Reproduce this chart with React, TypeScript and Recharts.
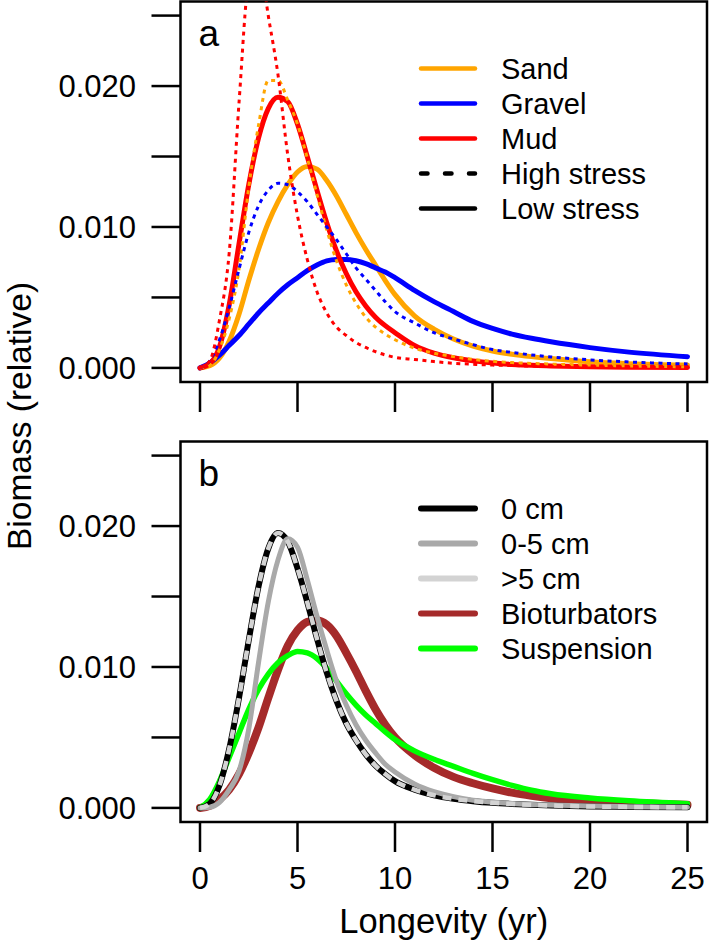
import { Legend, Line, LineChart, ReferenceArea, XAxis, YAxis } from 'recharts';

const FONT = '"Liberation Sans", Arial, Helvetica, sans-serif';

const longevity = [
  0, 0.5, 1, 1.5, 2, 2.5, 3, 3.5, 4, 4.5, 5, 5.5, 6, 6.5, 7, 7.5, 8, 8.5, 9, 9.5,
  10, 11, 12, 13, 14, 15, 16, 17, 18, 20, 22, 25,
];

// panel a, biomass in units of 0.001
const sandLow = [0, 0.15, 0.7, 1.9, 3.8, 6.2, 8.4, 10.3, 11.8, 13.0, 13.9, 14.3, 14.1, 13.3, 12.2, 10.9, 9.6, 8.4, 7.3, 6.2, 5.2, 3.7, 2.75, 2.05, 1.55, 1.2, 0.97, 0.8, 0.66, 0.43, 0.3, 0.2];
const gravelLow = [0, 0.35, 0.9, 1.6, 2.3, 3.1, 3.9, 4.6, 5.3, 5.9, 6.4, 6.9, 7.3, 7.6, 7.7, 7.7, 7.6, 7.4, 7.1, 6.8, 6.4, 5.5, 4.7, 4.0, 3.3, 2.8, 2.4, 2.1, 1.85, 1.44, 1.12, 0.8];
const mudLow = [0, 0.3, 1.5, 4.5, 8.8, 13.0, 16.3, 18.4, 19.2, 18.9, 17.3, 15.0, 12.6, 10.3, 8.3, 6.7, 5.4, 4.4, 3.6, 3.0, 2.5, 1.6, 1.05, 0.72, 0.5, 0.35, 0.25, 0.18, 0.14, 0.08, 0.05, 0.03];
const sandHigh = [0, 0.2, 1.3, 3.5, 7.0, 12.8, 17.2, 20.4, 20.4, 19.0, 17.3, 14.9, 12.3, 9.8, 7.6, 5.9, 4.6, 3.6, 2.9, 2.4, 2.0, 1.4, 1.05, 0.8, 0.6, 0.47, 0.38, 0.32, 0.27, 0.2, 0.14, 0.08];
const gravelHigh = [0, 0.5, 2.0, 4.3, 7.0, 9.6, 11.5, 12.6, 13.1, 13.0, 12.5, 11.8, 10.9, 10.0, 9.1, 8.1, 7.1, 6.3, 5.5, 4.7, 4.0, 3.2, 2.5, 2.05, 1.65, 1.3, 1.1, 0.92, 0.78, 0.57, 0.42, 0.28];
const mudHigh = [0, 0.5, 3.4, 8.2, 18.8, 27.6, 29.3, 25.0, 20.8, 15.1, 10.8, 7.7, 5.4, 3.9, 2.9, 2.3, 1.8, 1.45, 1.15, 0.92, 0.75, 0.6, 0.45, 0.33, 0.26, 0.2, 0.17, 0.13, 0.11, 0.08, 0.06, 0.04];

// panel b
const depth0 = [0, 0.3, 1.6, 4.2, 7.8, 11.9, 15.7, 18.4, 19.5, 18.9, 17.0, 14.6, 12.0, 9.6, 7.6, 6.0, 4.8, 3.8, 3.0, 2.4, 1.9, 1.3, 0.9, 0.65, 0.48, 0.36, 0.28, 0.22, 0.17, 0.1, 0.07, 0.04];
const depth05 = [0, 0.05, 0.4, 1.3, 2.6, 5.6, 10.3, 14.6, 17.6, 19.1, 18.5, 16.2, 13.6, 11.2, 9.0, 7.3, 5.9, 4.8, 3.9, 3.1, 2.55, 1.7, 1.15, 0.8, 0.55, 0.42, 0.32, 0.25, 0.2, 0.13, 0.09, 0.05];
const depth5 = [0, 0.3, 1.6, 4.2, 7.8, 11.9, 15.7, 18.4, 19.5, 18.9, 17.0, 14.6, 12.0, 9.6, 7.6, 6.0, 4.8, 3.8, 3.0, 2.4, 1.9, 1.3, 0.9, 0.65, 0.48, 0.36, 0.28, 0.22, 0.17, 0.1, 0.07, 0.04];
const bioturbators = [0, 0.15, 0.6, 1.3, 2.4, 3.9, 5.7, 7.8, 9.8, 11.5, 12.6, 13.2, 13.3, 13.0, 12.2, 11.0, 9.7, 8.3, 7.0, 5.9, 5.0, 3.75, 2.85, 2.2, 1.75, 1.38, 1.08, 0.86, 0.69, 0.48, 0.35, 0.22];
const suspension = [0, 0.6, 1.9, 3.6, 5.3, 7.0, 8.4, 9.5, 10.3, 10.8, 11.1, 11.0, 10.6, 9.9, 9.0, 8.1, 7.3, 6.6, 6.0, 5.4, 4.85, 4.05, 3.45, 2.95, 2.45, 2.0, 1.6, 1.25, 1.0, 0.7, 0.5, 0.3];

const xTicks = [0, 5, 10, 15, 20, 25];
const yTicks = [0, 5, 10, 15, 20, 25];
const yTickLabels = ['0.000', '', '0.010', '', '0.020', ''];

interface Series {
  key: string;
  color: string;
  width: number;
  dash?: string;
}

interface LegendItem {
  label: string;
  color: string;
  width: number;
  dash?: string;
}

function toRows(columns: Record<string, number[]>) {
  return longevity.map((x, i) => {
    const row: Record<string, number> = { x };
    Object.keys(columns).forEach((k) => {
      row[k] = columns[k][i];
    });
    return row;
  });
}

const dataA = toRows({ sandLow, gravelLow, mudLow, sandHigh, gravelHigh, mudHigh });
const dataB = toRows({ depth0, depth05, depth5, bioturbators, suspension });

const linesA: Series[] = [
  { key: 'sandLow', color: '#FFA500', width: 5 },
  { key: 'gravelLow', color: '#0000FF', width: 5 },
  { key: 'mudLow', color: '#FF0000', width: 5 },
  { key: 'sandHigh', color: '#FFA500', width: 3, dash: '4 4.5' },
  { key: 'gravelHigh', color: '#0000FF', width: 3, dash: '4 4.5' },
  { key: 'mudHigh', color: '#FF0000', width: 3, dash: '4 4.5' },
];

const linesB: Series[] = [
  { key: 'bioturbators', color: '#A52A2A', width: 8 },
  { key: 'suspension', color: '#00FF00', width: 5.5 },
  { key: 'depth0', color: '#000000', width: 6 },
  { key: 'depth05', color: '#A9A9A9', width: 5 },
  { key: 'depth5', color: '#D3D3D3', width: 4.5, dash: '9 7' },
];

const legendA: LegendItem[] = [
  { label: 'Sand', color: '#FFA500', width: 4.5 },
  { label: 'Gravel', color: '#0000FF', width: 4.5 },
  { label: 'Mud', color: '#FF0000', width: 4.5 },
  { label: 'High stress', color: '#000000', width: 4.5, dash: '6.5 17.5' },
  { label: 'Low stress', color: '#000000', width: 4.5 },
];

const legendB: LegendItem[] = [
  { label: '0 cm', color: '#000000', width: 6 },
  { label: '0-5 cm', color: '#A9A9A9', width: 6 },
  { label: '>5 cm', color: '#D3D3D3', width: 6 },
  { label: 'Bioturbators', color: '#A52A2A', width: 6 },
  { label: 'Suspension', color: '#00FF00', width: 6 },
];

const LegendBox = ({ items }: { items: LegendItem[] }) => (
  <svg width={290} height={180} style={{ display: 'block', overflow: 'visible' }}>
    {items.map((it, i) => {
      const y = 17.5 + i * 35;
      return (
        <g key={it.label}>
          <line
            x1={7}
            x2={61}
            y1={y}
            y2={y}
            stroke={it.color}
            strokeWidth={it.width}
            strokeDasharray={it.dash}
            strokeLinecap="round"
          />
          <text x={87} y={y + 10.5} fontSize={29} fill="#000" fontFamily={FONT}>
            {it.label}
          </text>
        </g>
      );
    })}
  </svg>
);

interface PanelProps {
  letter: string;
  data: Record<string, number>[];
  lines: Series[];
  legend: LegendItem[];
  height: number;
  axisHeight: number;
  showXLabels: boolean;
  top: number;
}

function Panel({ letter, data, lines, legend, height, axisHeight, showXLabels, top }: PanelProps) {
  const tickLine = { stroke: '#000', strokeWidth: 2.5 };
  const tick = { fontSize: 31, fill: '#000', fontFamily: FONT };
  return (
    <div style={{ position: 'absolute', left: 0, top }}>
      <LineChart
        width={709}
        height={height}
        data={data}
        margin={{ top: 1.5, right: 2, bottom: 0, left: 0 }}
      >
        <XAxis
          dataKey="x"
          type="number"
          domain={[-1, 26]}
          ticks={xTicks}
          interval={0}
          allowDataOverflow
          axisLine={false}
          tickLine={tickLine}
          tickSize={30}
          tickMargin={15}
          height={axisHeight}
          tick={tick}
          tickFormatter={(v: number) => (showXLabels ? String(v) : '')}
          label={
            showXLabels
              ? { value: 'Longevity (yr)', position: 'insideBottom', offset: 12, fontSize: 34.5, fill: '#000', fontFamily: FONT }
              : undefined
          }
        />
        <YAxis
          type="number"
          domain={[-1, 26]}
          ticks={yTicks}
          interval={0}
          allowDataOverflow
          width={180.5}
          axisLine={false}
          tickLine={tickLine}
          tickSize={29}
          tickMargin={15.5}
          tick={tick}
          tickFormatter={(v: number) => yTickLabels[yTicks.indexOf(v)] ?? ''}
        />
        <ReferenceArea
          x1={-1}
          x2={26}
          y1={-1}
          y2={26}
          fill="none"
          fillOpacity={0}
          stroke="#000"
          strokeWidth={2.5}
          ifOverflow="visible"
          label={{ value: letter, position: 'insideTopLeft', offset: 18, fontSize: 37, fill: '#000', fontFamily: FONT }}
        />
        {lines.map((s) => (
          <Line
            key={s.key}
            dataKey={s.key}
            type="monotone"
            stroke={s.color}
            strokeWidth={s.width}
            strokeDasharray={s.dash}
            strokeLinecap={s.dash ? 'butt' : 'round'}
            strokeLinejoin="round"
            dot={false}
            activeDot={false}
            isAnimationActive={false}
          />
        ))}
        <Legend
          layout="horizontal"
          verticalAlign="middle"
          align="center"
          wrapperStyle={{ left: 414, top: 51, width: 290, height: 180 }}
          content={() => <LegendBox items={legend} />}
        />
      </LineChart>
    </div>
  );
}

export default function App() {
  return (
    <div
      style={{
        position: 'absolute',
        left: 0,
        top: 0,
        width: 709,
        height: 945,
        background: '#fff',
        fontFamily: FONT,
      }}
    >
      <Panel
        letter="a"
        data={dataA}
        lines={linesA}
        legend={legendA}
        height={440}
        axisHeight={58}
        showXLabels={false}
        top={0}
      />
      <Panel
        letter="b"
        data={dataB}
        lines={linesB}
        legend={legendB}
        height={505}
        axisHeight={123}
        showXLabels
        top={439.5}
      />
      <svg
        width={60}
        height={945}
        style={{ position: 'absolute', left: 0, top: 0, pointerEvents: 'none' }}
      >
        <text
          transform="translate(31, 416) rotate(-90)"
          textAnchor="middle"
          fontSize={33.5}
          fill="#000"
          fontFamily={FONT}
        >
          Biomass (relative)
        </text>
      </svg>
    </div>
  );
}
